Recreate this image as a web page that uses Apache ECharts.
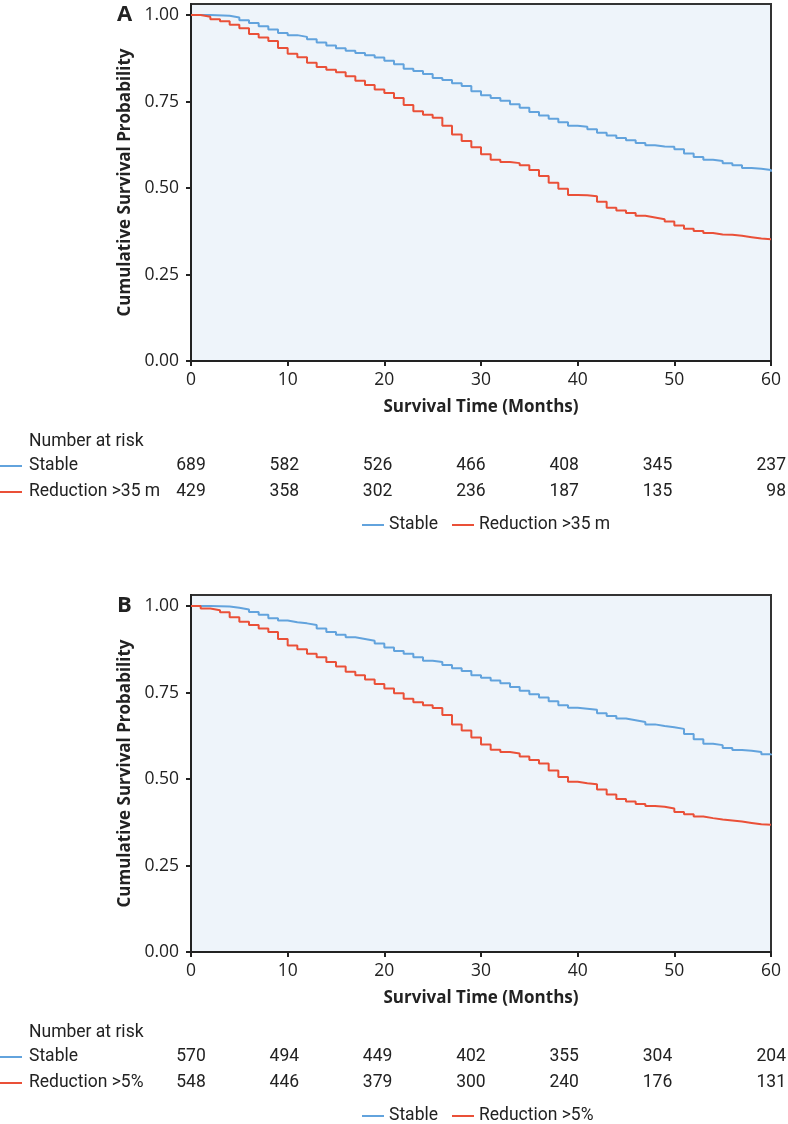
<!DOCTYPE html>
<html>
<head>
<meta charset="utf-8">
<script src="https://cdn.jsdelivr.net/npm/echarts@6/dist/echarts.min.js"></script>
<style>
html,body{margin:0;padding:0;background:#fff;}
#chart{width:788px;height:1124px;}
</style>
</head>
<body>
<div id="chart"></div>
<script>
// ---------- DATA ----------
const xTicks = [0, 10, 20, 30, 40, 50, 60];
const yTicks = [0, 0.25, 0.5, 0.75, 1.0];

const namesA = ['Stable', 'Reduction >35 m'];
const namesB = ['Stable', 'Reduction >5%'];

// Panel A: [months, survival]
const stableA = [[0,1.0],[2,0.998],[4,0.993],[5,0.985],[6,0.977],[7,0.968],[8,0.958],[9,0.948],[10,0.942],[11,0.937],[12,0.930],[13,0.921],[14,0.912],[15,0.904],[16,0.897],[17,0.890],[18,0.884],[19,0.877],[20,0.868],[21,0.858],[22,0.845],[23,0.838],[24,0.830],[25,0.818],[26,0.812],[27,0.803],[28,0.795],[29,0.780],[30,0.768],[31,0.760],[32,0.752],[33,0.742],[34,0.732],[35,0.720],[36,0.710],[37,0.700],[38,0.690],[39,0.680],[40,0.677],[41,0.670],[42,0.660],[43,0.652],[44,0.645],[45,0.638],[46,0.630],[47,0.624],[48,0.620],[49,0.619],[50,0.612],[51,0.600],[52,0.590],[53,0.582],[54,0.578],[55,0.572],[56,0.566],[57,0.558],[58,0.556],[59,0.552],[60,0.547]];
const reductionA = [[0,1.0],[1,0.995],[2,0.988],[3,0.982],[4,0.972],[5,0.962],[6,0.945],[7,0.935],[8,0.925],[9,0.905],[10,0.888],[11,0.878],[12,0.862],[13,0.850],[14,0.842],[15,0.835],[16,0.823],[17,0.810],[18,0.798],[19,0.785],[20,0.775],[21,0.760],[22,0.740],[23,0.722],[24,0.712],[25,0.703],[26,0.680],[27,0.655],[28,0.636],[29,0.618],[30,0.598],[31,0.582],[32,0.575],[33,0.572],[34,0.566],[35,0.552],[36,0.535],[37,0.515],[38,0.498],[39,0.480],[40,0.479],[41,0.476],[42,0.460],[43,0.443],[44,0.435],[45,0.428],[46,0.420],[47,0.415],[48,0.410],[49,0.403],[50,0.392],[51,0.382],[52,0.376],[53,0.370],[54,0.366],[55,0.365],[56,0.362],[57,0.358],[58,0.354],[59,0.352],[60,0.352]];

// Panel B
const stableB = [[0,1.0],[2,0.999],[4,0.995],[5,0.990],[6,0.983],[7,0.975],[8,0.965],[9,0.958],[10,0.953],[11,0.950],[12,0.945],[13,0.935],[14,0.925],[15,0.917],[16,0.910],[17,0.905],[18,0.900],[19,0.892],[20,0.880],[21,0.870],[22,0.862],[23,0.852],[24,0.842],[25,0.838],[26,0.830],[27,0.820],[28,0.812],[29,0.800],[30,0.793],[31,0.785],[32,0.777],[33,0.766],[34,0.755],[35,0.745],[36,0.736],[37,0.725],[38,0.713],[39,0.706],[40,0.703],[41,0.700],[42,0.690],[43,0.682],[44,0.675],[45,0.670],[46,0.665],[47,0.658],[48,0.653],[49,0.650],[50,0.645],[51,0.630],[52,0.615],[53,0.602],[54,0.598],[55,0.590],[56,0.584],[57,0.582],[58,0.578],[59,0.572],[60,0.569]];
const reductionB = [[0,1.0],[1,0.993],[2,0.988],[3,0.982],[4,0.968],[5,0.955],[6,0.945],[7,0.935],[8,0.925],[9,0.905],[10,0.886],[11,0.875],[12,0.862],[13,0.852],[14,0.838],[15,0.825],[16,0.810],[17,0.800],[18,0.788],[19,0.775],[20,0.762],[21,0.748],[22,0.732],[23,0.722],[24,0.713],[25,0.705],[26,0.685],[27,0.658],[28,0.640],[29,0.620],[30,0.600],[31,0.585],[32,0.578],[33,0.574],[34,0.565],[35,0.555],[36,0.545],[37,0.525],[38,0.506],[39,0.492],[40,0.488],[41,0.485],[42,0.470],[43,0.455],[44,0.442],[45,0.435],[46,0.428],[47,0.422],[48,0.420],[49,0.415],[50,0.405],[51,0.398],[52,0.392],[53,0.387],[54,0.383],[55,0.380],[56,0.377],[57,0.373],[58,0.369],[59,0.368],[60,0.368]];

// Number at risk
const riskStableA = [689, 582, 526, 466, 408, 345, 237];
const riskReductionA = [429, 358, 302, 236, 187, 135, 98];
const riskStableB = [570, 494, 449, 402, 355, 304, 204];
const riskReductionB = [548, 446, 379, 300, 240, 176, 131];

// ---------- STYLE ----------
const BLUE = '#62a3dd';
const RED = '#ea5038';
const DARK = '#222222';
const FONT = "'Open Sans', 'Noto Sans', sans-serif";
const TFONT = "Roboto, 'Noto Sans', sans-serif";

const chart = echarts.init(document.getElementById('chart'), null, {renderer: 'canvas'});

function grid(top) {
  return {left: 191, right: 17, top: top, height: 357, show: true,
    backgroundColor: '#eef4fa', borderColor: '#333', borderWidth: 2};
}
function xAxis(idx) {
  return {type: 'value', gridIndex: idx, min: 0, max: 60, interval: 10,
    name: 'Survival Time (Months)', nameLocation: 'middle', nameGap: 38,
    nameTextStyle: {fontFamily: FONT, fontWeight: 'bold', fontSize: 17, color: DARK},
    axisLine: {show: true, onZero: false, lineStyle: {color: DARK, width: 2}},
    axisTick: {show: true, length: 5, lineStyle: {color: DARK, width: 2}},
    axisLabel: {fontFamily: FONT, fontSize: 17.5, color: DARK, margin: 10},
    splitLine: {show: false}};
}
function yAxis(idx) {
  return {type: 'value', gridIndex: idx, min: 0, max: 1.032,
    name: 'Cumulative Survival Probability', nameLocation: 'middle', nameGap: 54,
    nameTextStyle: {fontFamily: FONT, fontWeight: 'bold', fontSize: 17, color: DARK},
    axisLine: {show: true, onZero: false, lineStyle: {color: DARK, width: 2}},
    axisTick: {show: true, length: 5, customValues: yTicks, lineStyle: {color: DARK, width: 2}},
    axisLabel: {fontFamily: FONT, fontSize: 17.5, color: DARK, margin: 12,
      customValues: yTicks, formatter: v => v.toFixed(2)},
    splitLine: {show: false}};
}
function line(name, data, color, idx) {
  return {type: 'line', name: name, data: data, xAxisIndex: idx, yAxisIndex: idx,
    step: 'end', symbol: 'none', lineStyle: {color: color, width: 2},
    itemStyle: {color: color}, z: 3, animation: false};
}

// number at risk graphics
const graphics = [];
function riskTable(topY, names, rowStable, rowRed) {
  const txt = (x, y, s, align) => graphics.push({type: 'text', x: x, y: y,
    style: {text: s, fontFamily: TFONT, fontSize: 17.5, fill: DARK, align: align || 'left', verticalAlign: 'middle'}});
  txt(29, topY, 'Number at risk');
  const rows = [[names[0], rowStable, BLUE, topY + 24], [names[1], rowRed, RED, topY + 50]];
  rows.forEach(r => {
    graphics.push({type: 'line', shape: {x1: 0, y1: r[3], x2: 22, y2: r[3]}, style: {stroke: r[2], lineWidth: 2}});
    txt(29, r[3], r[0]);
    r[1].forEach((v, i) => {
      if (i < r[1].length - 1) txt(191 + i * 93.3, r[3], String(v), 'center');
      else txt(786, r[3], String(v), 'right');
    });
  });
}
riskTable(442, namesA, riskStableA, riskReductionA);
riskTable(1033, namesB, riskStableB, riskReductionB);
graphics.push({type: 'text', x: 117, y: 15, style: {text: 'A', fontFamily: FONT, fontWeight: 'bold', fontSize: 22, fill: DARK, verticalAlign: 'middle'}});
graphics.push({type: 'text', x: 117, y: 606, style: {text: 'B', fontFamily: FONT, fontWeight: 'bold', fontSize: 22, fill: DARK, verticalAlign: 'middle'}});

function legend(top, names) {
  return {top: top, left: 357, data: names, itemWidth: 22, itemHeight: 2, itemGap: 14,
    icon: 'rect', selectedMode: false,
    textStyle: {fontFamily: TFONT, fontSize: 17.5, color: DARK, padding: [0, 0, 0, 0]}};
}

chart.setOption({
  backgroundColor: '#ffffff',
  animation: false,
  grid: [grid(4), grid(595)],
  xAxis: [xAxis(0), xAxis(1)],
  yAxis: [yAxis(0), yAxis(1)],
  legend: [legend(511, namesA), legend(1102, namesB)],
  series: [
    line(namesA[0], stableA, BLUE, 0),
    line(namesA[1], reductionA, RED, 0),
    line(namesB[0], stableB, BLUE, 1),
    line(namesB[1], reductionB, RED, 1)
  ],
  graphic: graphics
});
</script>
</body>
</html>
